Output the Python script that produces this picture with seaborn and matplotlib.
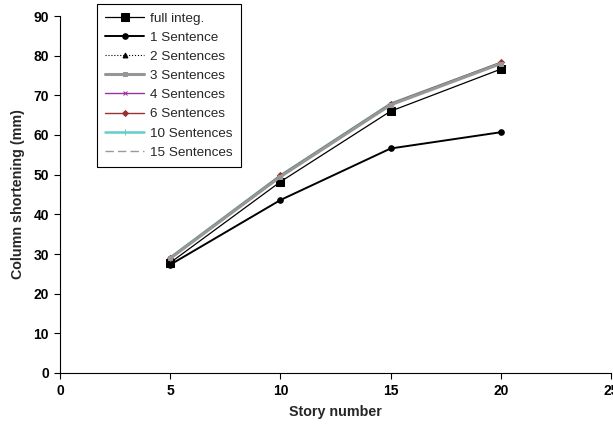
import matplotlib
matplotlib.use("Agg")
import matplotlib.pyplot as plt
import seaborn as sns
import pandas as pd

# Data
stories = [5, 10, 15, 20]
full_integ = [27.8, 48.2, 66.0, 76.6]
sent_1 = [27.3, 43.6, 56.6, 60.7]
sent_2 = [28.8, 49.5, 67.6, 78.1]
sent_3 = [28.9, 49.5, 67.6, 78.0]
sent_4 = [29.0, 49.7, 67.8, 78.2]
sent_6 = [29.1, 49.8, 67.9, 78.3]
sent_10 = [29.1, 49.8, 67.9, 78.2]
sent_15 = [28.9, 49.6, 67.7, 78.1]

labels = ["full integ.", "1 Sentence", "2 Sentences", "3 Sentences",
          "4 Sentences", "6 Sentences", "10 Sentences", "15 Sentences"]
series = [full_integ, sent_1, sent_2, sent_3, sent_4, sent_6, sent_10, sent_15]

styles = [
    dict(color="black", lw=0.9, ls="-", marker="s", ms=6, z=3),
    dict(color="black", lw=1.4, ls="-", marker="o", ms=4, z=3),
    dict(color="black", lw=0.8, ls=":", marker="^", ms=3.5, z=3),
    dict(color="#969696", lw=2.2, ls="-", marker="s", ms=3, z=5),
    dict(color="#993399", lw=1.0, ls="-", marker="x", ms=3.5, z=3),
    dict(color="#993333", lw=1.0, ls="-", marker="D", ms=3, z=4),
    dict(color="#66CCCC", lw=1.8, ls="-", marker="|", ms=4, z=3),
    dict(color="#999999", lw=1.0, ls=(0, (6, 3)), marker=None, ms=0, z=6),
]

sns.set_style("ticks")
plt.rcParams["font.family"] = ["Liberation Sans", "DejaVu Sans"]

fig = plt.figure(figsize=(6.13, 4.28), dpi=100)
ax = fig.add_axes([60 / 613, 55 / 428, 551 / 613, 357 / 428])

for lab, vals, st in zip(labels, series, styles):
    df = pd.DataFrame({"story": stories, "short": vals})
    sns.lineplot(data=df, x="story", y="short", ax=ax, label=lab,
                 color=st["color"], linewidth=st["lw"], linestyle=st["ls"],
                 marker=st["marker"], markersize=st["ms"], zorder=st["z"],
                 markeredgecolor=st["color"], markerfacecolor=st["color"])

ax.set_xlim(0, 25)
ax.set_ylim(0, 90)
ax.set_xticks(range(0, 26, 5))
ax.set_yticks(range(0, 91, 10))
for s in ["top", "right"]:
    ax.spines[s].set_visible(False)
for s in ["left", "bottom"]:
    ax.spines[s].set_color("black")
    ax.spines[s].set_linewidth(0.8)
ax.tick_params(axis="both", direction="out", length=4, width=0.8,
               labelsize=10, colors="black", pad=4)
for t in ax.get_xticklabels() + ax.get_yticklabels():
    t.set_fontweight("bold")
ax.set_xlabel("Story number", fontsize=10.3, fontweight="bold", labelpad=5)
ax.set_ylabel("Column shortening (mm)", fontsize=10.3, fontweight="bold", labelpad=6)

ax.get_legend().remove()
h, l = ax.get_legend_handles_labels()
leg = fig.legend(h, l, loc="upper left", bbox_to_anchor=(97 / 613, 1 - 4 / 428),
                 fontsize=9.7, frameon=True, fancybox=False, framealpha=1,
                 edgecolor="black", handlelength=2.9, labelspacing=0.5,
                 borderpad=0.6, handletextpad=0.45, borderaxespad=0)
leg.get_frame().set_linewidth(0.8)

fig.savefig("out.png", dpi=100)
